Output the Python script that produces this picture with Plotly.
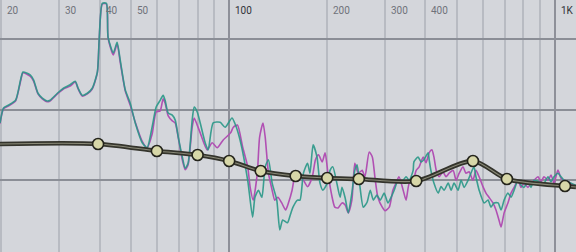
import math
import plotly.graph_objects as go

# ---------------- data ----------------
teal_freq = [19.8, 20.3, 21.0, 22.1, 22.9, 23.3, 24.5, 25.1, 25.9, 26.7, 27.6, 28.2, 29.7, 31.0, 32.5,
             33.7, 34.4, 35.4, 36.7, 38.0, 39.4, 39.9, 40.8, 42.0, 42.5, 44.1, 45.3, 46.3, 48.0, 49.7,
             51.5, 54.1, 56.0, 58.0, 59.7, 61.4, 62.7, 63.6, 65.0, 66.9, 68.3, 69.8, 71.8, 73.3, 74.8,
             77.0, 78.1, 79.8, 81.5, 84.4, 86.2, 89.3, 93.8, 97.2, 102, 104, 108, 114, 118, 120,
             123, 126, 129, 132, 135.5, 140, 143, 146, 151, 154, 157, 162, 165, 169, 174,
             177, 181, 186, 190, 194, 200, 204, 208, 214, 219, 222, 227, 232, 238, 243,
             247, 252, 258, 265, 271, 277, 284, 291, 299, 307, 314, 321, 330, 337, 349,
             357, 367, 369, 380, 388, 396, 408, 411, 416, 425, 438, 447, 457, 470, 480,
             490, 504, 515, 526, 541, 552, 564, 572, 585, 606, 623, 636, 650, 669, 683,
             698, 717, 733, 749, 770, 787, 803, 826, 844, 862, 893, 925, 952, 972, 993,
             1021, 1043, 1066, 1096, 1120, 1160]
teal_db = [-1.9, 0.2, 0.6, 1.3, 4.2, 5.3, 4.9, 4.2, 2.3, 1.6, 1.2, 1.3, 2.3, 3.0, 3.5,
           4.0, 3.0, 2.0, 2.3, 3.0, 5.3, 9.8, 15.0, 15.0, 10.2, 8.0, 9.5, 7.0, 2.75, 0.9,
           -1.9, -4.7, -5.4, -2.5, 0.35, 1.3, 2.0, 1.3, -0.5, -0.8, -1.5, -3.9, -6.7, -8.3, -7.6,
           -1.5, 0.35, -0.35, -1.9, -4.7, -5.7, -1.9, -1.8, -2.5, -1.2, -1.9, -4.3, -10.0, -15.2, -12.4,
           -11.4, -12.4, -8.1, -7.1, -10.4, -12.8, -17.0, -15.6, -16.0, -14.9, -13.8, -12.8, -12.8, -9.0, -7.6,
           -9.0, -5.0, -6.7, -10.4, -11.4, -10.4, -8.6, -8.1, -10.4, -12.4, -11.0, -12.5, -14.6, -11.8, -8.6,
           -7.8, -10.9, -13.8, -13.1, -11.4, -12.8, -12.1, -12.8, -11.8, -13.2, -12.4, -11.4, -10.0, -10.4, -9.5,
           -10.0, -8.6, -7.4, -6.7, -7.4, -7.1, -6.1, -7.1, -8.6, -10.4, -11.8, -10.9, -11.4, -10.4, -11.4,
           -10.4, -11.4, -10.0, -11.0, -10.0, -9.0, -8.1, -9.5, -11.4, -13.2, -12.8, -13.8, -13.2, -13.2, -14.2,
           -12.8, -11.8, -12.4, -11.4, -10.0, -10.7, -11.0, -10.2, -11.0, -10.0, -10.2, -10.4, -9.5, -10.2, -9.5,
           -9.0, -9.5, -10.0, -10.2, -10.4, -10.7]

magenta_freq = [19.8, 20.3, 21.0, 22.1, 22.9, 23.3, 24.5, 25.1, 25.9, 26.7, 27.6, 28.2, 29.7, 31.0, 32.5,
                33.7, 34.4, 35.4, 36.7, 38.0, 39.4, 39.9, 40.8, 42.0, 42.5, 44.1, 45.3, 46.3, 48.0, 49.7,
                51.5, 54.1, 56.0, 58.0, 59.7, 61.4, 62.7, 63.6, 65.0, 66.9, 68.3, 69.8, 71.8, 73.3, 74.8,
                77.0, 78.1, 79.8, 81.5, 85.6, 88.7, 91.9, 95.9, 101, 103, 106, 110, 114, 116, 118.5,
                122, 124, 127, 129, 132, 135.5, 138, 141, 145, 149, 152, 156, 159, 163, 167,
                174, 180, 184, 188, 193, 197, 201, 207, 211, 216, 222, 227, 232, 238, 243,
                249, 256, 261, 269, 275, 280, 286, 295, 301, 310, 318, 325, 332, 342, 349,
                357, 367, 375, 383, 394, 402, 411, 419, 425, 432, 441, 453, 463, 473, 487,
                497, 508, 522, 533, 545, 560, 572, 585, 601, 614, 627, 645, 659, 673, 683,
                698, 717, 733, 749, 770, 787, 803, 826, 844, 862, 887, 906, 925, 952, 972,
                993, 1021, 1043, 1066, 1096, 1136, 1160]
magenta_db = [-2.0, 0.1, 0.5, 1.2, 4.0, 5.2, 4.7, 4.0, 2.2, 1.5, 1.1, 1.2, 2.2, 2.9, 3.3,
              3.9, 2.9, 1.9, 2.2, 2.9, 5.2, 9.7, 14.9, 14.9, 10.1, 7.7, 9.25, 6.7, 2.6, 0.6,
              -1.8, -4.5, -5.4, -3.5, -0.35, -0.2, 1.5, 0.9, -0.9, -1.6, -1.9, -4.0, -7.1, -8.5, -7.8,
              -2.5, -1.2, -2.2, -3.3, -5.7, -4.7, -5.4, -4.3, -3.3, -2.5, -2.2, -5.3, -8.1, -11.0, -12.8,
              -9.0, -3.9, -1.9, -3.9, -9.0, -11.4, -12.8, -12.4, -13.2, -14.2, -13.2, -11.4, -9.5, -9.0, -9.5,
              -10.9, -9.5, -7.1, -6.4, -7.4, -6.1, -9.0, -12.4, -13.8, -13.9, -13.2, -13.5, -14.6, -12.8, -7.6,
              -9.0, -8.6, -9.5, -6.0, -6.7, -9.5, -12.4, -13.8, -14.3, -13.8, -11.4, -10.4, -9.5, -11.4, -12.8,
              -10.4, -10.0, -8.6, -8.1, -6.7, -7.5, -6.1, -5.7, -6.7, -8.6, -9.5, -8.8, -9.5, -9.0, -8.6,
              -10.0, -9.0, -8.1, -9.0, -8.8, -10.0, -8.6, -9.5, -10.9, -11.8, -12.4, -13.2, -14.2, -15.6, -16.6,
              -14.6, -13.2, -11.8, -11.0, -10.0, -11.0, -10.4, -11.0, -10.4, -10.0, -9.5, -10.2, -9.5, -10.0, -9.25,
              -10.4, -8.55, -9.7, -10.0, -10.2, -10.7, -10.95]

# EQ nodes
eq_freq = [39.6, 60, 80, 100, 125, 160, 200, 250, 375, 560, 712, 1073]
eq_gain = [-4.87, -5.86, -6.43, -7.27, -8.69, -9.39, -9.68, -9.82, -10.1, -7.27, -9.82, -10.81]
# EQ curve values at the view edges
eq_edge_freq = [19.8, 1160]
eq_edge_gain = [-4.87, -10.95]

tick_freq = [20, 30, 40, 50, 100, 200, 300, 400, 1000]
tick_text = ["20", "30", "40", "50", "100", "200", "300", "400", "1K"]
minor_grid = [20, 30, 40, 50, 60, 70, 80, 90, 200, 300, 400, 500, 600, 700, 800, 900]
major_grid = [100, 1000]
db_grid = [10, 0, -10, -20]

x_range = [math.log10(19.8), math.log10(1160)]
y_range = [-20.13, 15.47]

# ---------------- figure ----------------
fig = go.Figure()

fig.add_trace(go.Scatter(x=magenta_freq, y=magenta_db, mode="lines",
                         line=dict(color="#b150b3", width=1.6, shape="spline", smoothing=0.6),
                         hoverinfo="skip", showlegend=False))
fig.add_trace(go.Scatter(x=teal_freq, y=teal_db, mode="lines", opacity=0.9,
                         line=dict(color="#2a9888", width=1.6, shape="spline", smoothing=0.6),
                         hoverinfo="skip", showlegend=False))

curve_x = [eq_edge_freq[0]] + eq_freq + [eq_edge_freq[1]]
curve_y = [eq_edge_gain[0]] + eq_gain + [eq_edge_gain[1]]
fig.add_trace(go.Scatter(x=curve_x, y=curve_y, mode="lines",
                         line=dict(color="#34342c", width=4.5, shape="spline", smoothing=0.8),
                         hoverinfo="skip", showlegend=False))
fig.add_trace(go.Scatter(x=curve_x, y=curve_y, mode="lines",
                         line=dict(color="#8a8a78", width=1.1, shape="spline", smoothing=0.8),
                         hoverinfo="skip", showlegend=False))
fig.add_trace(go.Scatter(x=eq_freq, y=eq_gain, mode="markers",
                         marker=dict(size=11, color="#d7d7a8", line=dict(color="#24241c", width=1.6)),
                         hoverinfo="skip", showlegend=False))

for f, t in zip(tick_freq, tick_text):
    strong = f in major_grid
    fig.add_annotation(x=math.log10(f), xref="x", y=1, yref="paper", text=t,
                       showarrow=False, xanchor="left", yanchor="middle",
                       xshift=4, yshift=-10,
                       font=dict(family="Roboto, Liberation Sans, sans-serif", size=10,
                                 color="#303238" if strong else "#6f727a"))

fig.update_layout(
    width=576, height=252,
    margin=dict(l=0, r=0, t=0, b=0),
    paper_bgcolor="#d4d6db", plot_bgcolor="#d4d6db",
    showlegend=False,
    xaxis=dict(type="log", range=x_range, tickvals=minor_grid, showticklabels=False,
               showgrid=True, gridcolor="#b8bbc2", gridwidth=1.5, zeroline=False,
               showline=False, fixedrange=True),
    xaxis2=dict(type="log", range=x_range, overlaying="x", tickvals=major_grid,
                showticklabels=False, showgrid=True, gridcolor="#8e9099", gridwidth=2,
                zeroline=False, showline=False, fixedrange=True),
    yaxis=dict(range=y_range, tickvals=db_grid, showticklabels=False, showgrid=True,
               gridcolor="#8b8e96", gridwidth=1.6, zeroline=False, showline=False,
               fixedrange=True),
)
# dummy trace to activate xaxis2 grid
fig.add_trace(go.Scatter(x=[], y=[], xaxis="x2", yaxis="y", showlegend=False, hoverinfo="skip"))

fig.write_html("out.html", config={"displayModeBar": False})
